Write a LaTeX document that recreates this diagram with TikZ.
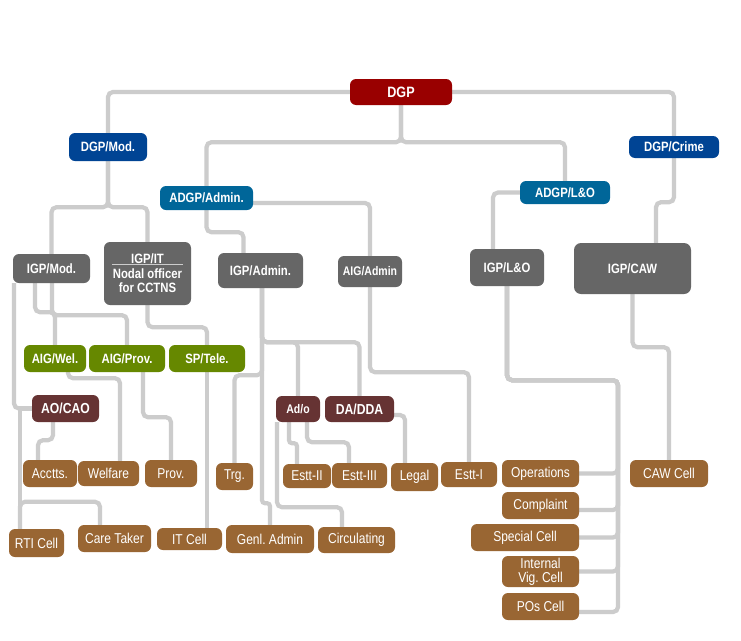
\documentclass[tikz,border=0pt]{standalone}
\usepackage{fontspec}
\setmainfont{Liberation Sans}[FakeStretch=0.84]
\frenchspacing
\usetikzlibrary{backgrounds}
\definecolor{cRed}{HTML}{990000}
\definecolor{cBlue}{HTML}{004494}
\definecolor{cTeal}{HTML}{006699}
\definecolor{cGray}{HTML}{666666}
\definecolor{cGreen}{HTML}{668800}
\definecolor{cMaroon}{HTML}{663333}
\definecolor{cBrown}{HTML}{996633}
\definecolor{cLine}{HTML}{CCCCCC}
\begin{document}
\begin{tikzpicture}[x=1pt,y=-1pt,
  box/.style={rounded corners=6pt, inner sep=0pt, text=white, align=center},
  bold/.style={box, font=\bfseries\fontsize{13.5}{14.5}\selectfont},
  boldL/.style={box, font=\bfseries\fontsize{14.5}{15}\selectfont},
  boldS/.style={box, font=\bfseries\fontsize{12.5}{13}\selectfont},
  plain/.style={box, fill=cBrown, font=\fontsize{14.3}{14}\selectfont},
  conn/.style={draw=cLine, line width=4.2pt, rounded corners=5pt},
  sz/.style 2 args={minimum width=#1pt, minimum height=#2pt}
]
\useasboundingbox (0,0) rectangle (741,640);
% top level
\node[box, fill=cRed, sz={102}{26}, font=\bfseries\fontsize{15}{16}\selectfont] (dgp) at (401,92) {DGP};
\node[bold, fill=cBlue, sz={78}{28}] (dgpmod) at (108,147) {DGP/Mod.};
\node[bold, fill=cTeal, sz={93}{24}] (adgpadmin) at (206.5,198) {ADGP/Admin.};
\node[bold, fill=cTeal, sz={90}{23}] (adgplo) at (565,192.5) {ADGP/L\&O};
\node[bold, fill=cBlue, sz={90}{22}] (dgpcrime) at (674,147) {DGP/Crime};
% gray
\node[bold, fill=cGray, sz={77}{29}] (igpmod) at (51.5,268.5) {IGP/Mod.};
\node[bold, fill=cGray, sz={87}{63}] (igpit) at (147.5,273.5) {IGP/IT\\Nodal officer\\for CCTNS};
\node[bold, fill=cGray, sz={85}{35}] (igpadmin) at (260.5,270.5) {IGP/Admin.};
\node[boldS, fill=cGray, sz={64}{31}] (aigadmin) at (370,271.5) {AIG/Admin};
\node[bold, fill=cGray, sz={74}{37}] (igplo) at (507,267.5) {IGP/L\&O};
\node[bold, fill=cGray, sz={117}{51}, rounded corners=7pt] (igpcaw) at (632.5,268.5) {IGP/CAW};
% green
\node[bold, fill=cGreen, sz={62}{27}] (aigwel) at (55,358.5) {AIG/Wel.};
\node[bold, fill=cGreen, sz={76}{27}] (aigprov) at (127,358.5) {AIG/Prov.};
\node[bold, fill=cGreen, sz={76}{27}] (sptele) at (207,358.5) {SP/Tele.};
% maroon
\node[boldL, fill=cMaroon, sz={67}{27}] (aocao) at (65.5,408.5) {AO/CAO};
\node[boldS, fill=cMaroon, sz={44}{26}] (ado) at (298,409) {Ad/o};
\node[boldL, fill=cMaroon, sz={69}{26}] (dadda) at (359.5,409) {DA/DDA};
% brown
\node[plain, sz={54}{27}] (acctts) at (50,473.5) {Acctts.};
\node[plain, sz={61}{25}] (welfare) at (108.5,473.5) {Welfare};
\node[plain, sz={52}{27}] (prov) at (171,473.5) {Prov.};
\node[plain, sz={37}{27}] (trg) at (234.5,476.5) {Trg.};
\node[plain, sz={48}{24}] (esttii) at (307,476) {Estt-II};
\node[plain, sz={55}{25}] (esttiii) at (359.5,475.5) {Estt-III};
\node[plain, sz={47}{28}] (legal) at (414.5,477) {Legal};
\node[plain, sz={56}{25}] (estti) at (469,474.5) {Estt-I};
\node[plain, sz={77}{27}] (ops) at (540.5,473.5) {Operations};
\node[plain, sz={77}{27}] (complaint) at (540.5,505.5) {Complaint};
\node[plain, sz={108}{27}] (special) at (525,537.5) {Special Cell};
\node[plain, sz={77}{31}] (ivig) at (540.5,571.5) {Internal\\Vig. Cell};
\node[plain, sz={77}{27}] (pos) at (540.5,606.5) {POs Cell};
\node[plain, sz={78}{27}] (cawcell) at (669,473.5) {CAW Cell};
\node[plain, sz={55}{28}] (rti) at (36.5,543) {RTI Cell};
\node[plain, sz={73}{27}] (caretaker) at (114.5,538.5) {Care Taker};
\node[plain, sz={65}{22}] (itcell) at (189.5,539) {IT Cell};
\node[plain, sz={88}{28}] (genl) at (270,539) {Genl. Admin};
\node[plain, sz={77}{26}] (circ) at (356.5,540) {Circulating};
% separator in IGP/IT
\draw[cLine, line width=1.3pt] ([xshift=-35.5pt,yshift=9pt]igpit.center) -- ([xshift=35.5pt,yshift=9pt]igpit.center);

\begin{pgfonlayer}{background}
\fill[white] (0,0) rectangle (741,640);
% DGP
\draw[conn] (dgp.west) -| (dgpmod.north);
\draw[conn] (dgp.east) -| (dgpcrime.north);
\draw[conn] (dgp.south) -- ++(0,37) -| (adgpadmin.north);
\draw[conn] (dgp.south) -- ++(0,37) -| (adgplo.north);
% DGP/Mod
\draw[conn] (dgpmod.south) -- ++(0,46) -| (igpmod.north);
\draw[conn] (dgpmod.south) -- ++(0,46) -| (igpit.north);
% ADGP/Admin
\draw[conn] (adgpadmin.south) -- ++(0,22) -| ([xshift=-17pt]igpadmin.north);
\draw[conn] ([yshift=-5pt]adgpadmin.east) -| (aigadmin.north);
% ADGP/L&O
\draw[conn] (adgplo.west) -| ([xshift=-14pt]igplo.north);
% DGP/Crime
\draw[conn] (dgpcrime.south) -- ++(0,44) -| ([xshift=23.5pt]igpcaw.north);
% IGP/Mod
\draw[conn] ([xshift=-16.5pt]igpmod.south) -- ++(0,29) -| (aigwel.north);
\draw[conn] ([xshift=0.5pt]igpmod.south) -- ++(0,32) -| (aigprov.north);
\draw[conn] ([xshift=-37.5pt]igpmod.south) |- (aocao.west);
\draw[conn, sharp corners] (aocao.west) -| ([xshift=-16.5pt]rti.north);
\draw[conn] ([xshift=-16.5pt]rti.north) -- ++(0,-27) -| ([xshift=-14.5pt]caretaker.north);
% IGP/IT
\draw[conn] (igpit.south) -- ++(0,22) -| (sptele.north);
% green
\draw[conn] ([xshift=13pt]aigwel.south) -- ++(0,6) -| ([xshift=11.5pt]welfare.north);
\draw[conn] ([xshift=16pt]aigprov.south) -- ++(0,45) -| (prov.north);
\draw[conn] (sptele.south) -- (sptele.south |- itcell.north);
% AO/CAO
\draw[conn] ([xshift=-12.5pt]aocao.south) -- ++(0,18) -| ([xshift=-12pt]acctts.north);
% IGP/Admin
\draw[conn] ([xshift=1.5pt]igpadmin.south) -- ++(0,54) -| (dadda.north);
\draw[conn] ([xshift=1.5pt]igpadmin.south) -- ++(0,54) -| (ado.north);
\draw[conn] ([xshift=1.5pt]igpadmin.south) -- ++(0,87) -| (trg.north);
\draw[conn, rounded corners=3pt] ([xshift=1.5pt]igpadmin.south) -- ++(0,215) -| (genl.north);
% Ad/o
\draw[conn] ([xshift=-21pt]ado.south) -- ++(0,85) -| ([xshift=-14.5pt]circ.north);
\draw[conn, rounded corners=3pt] ([xshift=-9pt]ado.south) -- ++(0,21) -| ([xshift=-10pt]esttii.north);
\draw[conn] ([xshift=9pt]ado.south) -- ++(0,20) -| ([xshift=-10.5pt]esttiii.north);
% DA/DDA
\draw[conn] ([yshift=-6pt]dadda.east) -| ([xshift=-9.5pt]legal.north);
% AIG/Admin
\draw[conn] (aigadmin.south) -- ++(0,85) -| (estti.north);
% IGP/L&O
\draw[conn] (igplo.south) -- ++(0,94) -- ++(111,0) |- (ops.east);
\draw[conn] (igplo.south) -- ++(0,94) -- ++(111,0) |- ([yshift=-4.5pt]complaint.east);
\draw[conn] (igplo.south) -- ++(0,94) -- ++(111,0) |- (special.east);
\draw[conn] (igplo.south) -- ++(0,94) -- ++(111,0) |- (ivig.east);
\draw[conn] (igplo.south) -- ++(0,94) -- ++(111,0) |- ([yshift=-5.5pt]pos.east);
% IGP/CAW
\draw[conn] (igpcaw.south) -- ++(0,53) -| (cawcell.north);
\end{pgfonlayer}
\end{tikzpicture}
\end{document}
